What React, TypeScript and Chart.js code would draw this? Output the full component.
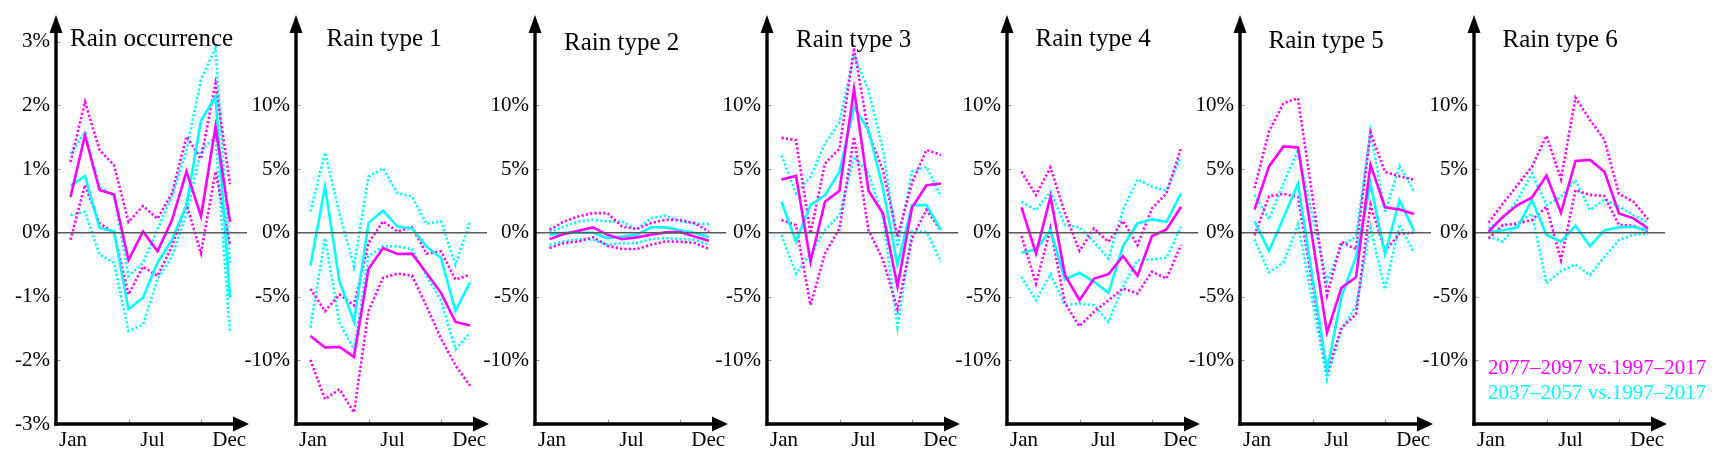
import React, { useEffect, useRef } from 'react';
import { Chart, registerables } from 'chart.js';

Chart.register(...registerables);

// ---------- data ----------
const MONTH_NUM = [1, 2, 3, 4, 5, 6, 7, 8, 9, 10, 11, 12];
const X_LABELS = ['Jan', 'Jul', 'Dec'];
const X_LABEL_POS = [1.17, 6.66, 11.95];
const X_MINOR_TICKS = [5, 10];
const TITLES = ['Rain occurrence', 'Rain type 1', 'Rain type 2', 'Rain type 3', 'Rain type 4', 'Rain type 5', 'Rain type 6'];
const SERIES_NAMES = ['2077\u20132097 vs.1997\u20132017', '2037\u20132057 vs.1997\u20132017'];
const OCC_TICKS = [-3, -2, -1, 0, 1, 2, 3];
const TYPE_TICKS = [-10, -5, 0, 5, 10];
const OCC_RANGE = [-3, 3];
const TYPE_RANGE = [-15, 15];

// Rain occurrence
const occFar = [0.56, 1.53, 0.67, 0.6, -0.43, 0.02, -0.29, 0.2, 0.96, 0.26, 1.66, 0.17];
const occFarHi = [1.11, 2.05, 1.3, 1.06, 0.17, 0.42, 0.22, 0.62, 1.51, 1.16, 2.34, 0.76];
const occFarLo = [-0.11, 0.75, 0.15, 0.0, -0.97, -0.53, -0.68, -0.21, 0.45, -0.32, 0.96, -0.18];
const occNear = [0.74, 0.89, 0.08, 0.02, -1.2, -1.02, -0.47, -0.11, 0.43, 1.76, 2.13, -1.02];
const occNearHi = [1.24, 1.58, 0.72, 0.58, -0.68, -0.47, 0.05, 0.57, 1.3, 2.4, 2.9, -0.47];
const occNearLo = [0.28, 0.33, -0.34, -0.47, -1.54, -1.44, -0.73, -0.37, 0.3, 1.3, 1.5, -1.57];

// Rain type 1
const t1Far = [-8.1, -9.0, -8.96, -9.74, -2.84, -1.2, -1.67, -1.64, -3.15, -4.71, -7.0, -7.27];
const t1FarHi = [-4.4, -6.15, -4.84, -5.7, -0.8, 0.89, 0.1, 0.44, -1.64, -1.46, -3.67, -3.28];
const t1FarLo = [-9.97, -13.05, -12.27, -14.1, -6.15, -3.54, -3.2, -3.36, -5.76, -8.3, -10.4, -12.0];
const t1Near = [-2.58, 3.62, -3.8, -7.0, 0.76, 1.74, 0.49, 0.36, -1.07, -1.98, -6.15, -3.88];
const t1NearHi = [1.67, 6.28, 1.5, -2.63, 4.4, 5.05, 3.1, 2.84, 0.7, 0.89, -2.5, 0.89];
const t1NearLo = [-7.45, -0.42, -7.06, -9.14, -1.85, -1.07, -1.07, -1.28, -3.4, -5.3, -9.14, -7.84];

// Rain type 2
const t2Far = [-0.5, -0.1, 0.16, 0.42, -0.16, -0.5, -0.36, -0.16, 0.03, 0.05, -0.29, -0.63];
const t2FarHi = [0.23, 0.89, 1.28, 1.54, 1.54, 0.49, 0.29, 0.76, 1.02, 1.0, 0.76, 0.1];
const t2FarLo = [-1.2, -0.8, -0.68, -0.34, -1.02, -1.28, -1.28, -0.94, -0.68, -0.7, -0.8, -1.28];
const t2Near = [-0.16, 0, 0, 0, -0.42, -0.29, -0.16, 0.42, 0.42, 0.2, 0, -0.33];
const t2NearHi = [0.03, 0.49, 0.89, 1.02, 0.89, 0.89, 0.23, 1.15, 1.33, 0.9, 0.7, 0.7];
const t2NearLo = [-0.94, -0.68, -0.5, -0.55, -0.94, -0.81, -0.81, -0.5, -0.42, -0.5, -0.55, -0.94];

// Rain type 3
const t3Far = [4.18, 4.46, -2.27, 2.43, 3.29, 11.3, 3.29, 1.51, -4.23, 1.98, 3.73, 3.86];
const t3FarHi = [7.44, 7.26, -0.05, 5.43, 6.6, 14.5, 7.8, 4.9, -0.3, 3.9, 6.5, 6.1];
const t3FarLo = [0.99, 0.6, -5.67, -1.62, 0.34, 7.52, 0.21, -2.14, -6.0, -0.44, 1.8, 0.16];
const t3Near = [2.43, -0.7, 2.17, 2.95, 4.78, 9.87, 8.04, 3.47, -2.53, 2.17, 2.17, 0.21];
const t3NearHi = [6.08, 3.08, 4.39, 7.0, 8.69, 13.9, 11.2, 6.5, -1.1, 4.8, 5.17, 2.82];
const t3NearLo = [-0.18, -3.19, -1.62, 0.21, 1.38, 5.95, 4.65, 1.25, -7.4, 0.1, 0.08, -2.3];

// Rain type 4
const t4Far = [1.99, -1.62, 2.83, -3.32, -5.29, -3.59, -3.25, -1.83, -3.38, -0.26, 0.26, 2.04];
const t4FarHi = [4.79, 2.96, 5.13, 1.52, -1.41, 0.34, -0.71, 0.94, -0.97, 1.91, 3.09, 6.62];
const t4FarLo = [-0.26, -3.98, 0.34, -5.55, -7.33, -6.2, -5.29, -4.37, -4.76, -3.06, -3.59, -0.97];
const t4Near = [-1.57, -1.31, 0.21, -3.66, -3.14, -3.85, -4.71, -1.05, 0.73, 1.05, 0.86, 3.09];
const t4NearHi = [2.43, 1.78, 3.22, 0.6, 0.42, -0.71, -2.02, 1.78, 4.19, 3.61, 3.3, 5.97];
const t4NearLo = [-3.46, -5.29, -3.25, -5.68, -5.55, -5.68, -6.99, -4.24, -2.15, -2.09, -1.96, 0.47];

// Rain type 5
const t5Far = [1.82, 5.2, 6.77, 6.69, -0.5, -7.84, -4.3, -3.5, 5.34, 2.0, 1.82, 1.48];
const t5FarHi = [3.5, 7.94, 10.16, 10.55, 2.8, -4.9, -0.7, -1.3, 7.86, 4.77, 4.43, 4.17];
const t5FarLo = [-0.2, 2.86, 3.05, 2.81, -4.1, -11.0, -7.45, -6.4, 2.2, -1.43, -0.08, 0.0];
const t5Near = [0.91, -1.43, 1.17, 3.85, -3.5, -10.8, -5.0, -1.9, 3.85, -1.7, 2.55, 0.13];
const t5NearHi = [3.0, 1.04, 3.9, 6.5, 1.3, -3.8, -1.0, -0.3, 7.94, 1.56, 5.26, 3.26];
const t5NearLo = [-0.52, -3.1, -2.34, 0.65, -5.4, -11.5, -7.58, -5.76, 0.39, -4.43, 0.65, -1.56];

// Rain type 6
const t6Far = [0.08, 1.26, 2.17, 2.77, 4.48, 1.57, 5.63, 5.71, 4.79, 1.52, 1.13, 0.34];
const t6FarHi = [0.79, 2.3, 3.74, 5.18, 7.6, 4.2, 10.6, 8.85, 7.28, 3.04, 2.43, 1.05];
const t6FarLo = [-0.45, 0.6, 0.73, 1.0, 2.04, -2.15, 3.35, 2.96, 2.88, 0.6, 0.55, 0.08];
const t6Near = [0.08, 0.2, 0.42, 2.57, -0.18, -0.7, 0.55, -1.05, 0.2, 0.42, 0.47, 0.2];
const t6NearHi = [0.34, 1.13, 2.57, 4.66, 2.17, 2.83, 4.14, 1.78, 2.62, 2.04, 1.39, 0.79];
const t6NearLo = [-0.31, -0.7, 0.73, 1.5, -3.98, -3.0, -2.49, -3.32, -1.88, -0.58, -0.15, -0.1];

// ---------- layout / style ----------
const FAR_COLOR = '#ff00ff';
const NEAR_COLOR = '#00ffff';
const SERIF = '"Liberation Serif", "Times New Roman", serif';
const AXIS_X = [56, 296, 535, 767, 1007, 1240, 1474];
const TITLE_DX = [14, 30.5, 29, 29, 28.5, 28.5, 28.5];
const TITLE_BASE = [45.5, 45.5, 50, 46.5, 46, 48, 46.5];
const LEFT = 56;
const AXIS_LEN = 191;
const PX_PER_MONTH = 14.5;
const PLOT_TOP = 41.5;
const PLOT_BOTTOM = 424;
const CANVAS_H = 462;
const ARROW_TOP = 15;

type PanelDef = {
  title: string;
  ticks: number[];
  range: number[];
  series: number[][]; // far, near, farHi, farLo, nearHi, nearLo
};

const PANELS: PanelDef[] = [
  { title: TITLES[0], ticks: OCC_TICKS, range: OCC_RANGE, series: [occFar, occNear, occFarHi, occFarLo, occNearHi, occNearLo] },
  { title: TITLES[1], ticks: TYPE_TICKS, range: TYPE_RANGE, series: [t1Far, t1Near, t1FarHi, t1FarLo, t1NearHi, t1NearLo] },
  { title: TITLES[2], ticks: TYPE_TICKS, range: TYPE_RANGE, series: [t2Far, t2Near, t2FarHi, t2FarLo, t2NearHi, t2NearLo] },
  { title: TITLES[3], ticks: TYPE_TICKS, range: TYPE_RANGE, series: [t3Far, t3Near, t3FarHi, t3FarLo, t3NearHi, t3NearLo] },
  { title: TITLES[4], ticks: TYPE_TICKS, range: TYPE_RANGE, series: [t4Far, t4Near, t4FarHi, t4FarLo, t4NearHi, t4NearLo] },
  { title: TITLES[5], ticks: TYPE_TICKS, range: TYPE_RANGE, series: [t5Far, t5Near, t5FarHi, t5FarLo, t5NearHi, t5NearLo] },
  { title: TITLES[6], ticks: TYPE_TICKS, range: TYPE_RANGE, series: [t6Far, t6Near, t6FarHi, t6FarLo, t6NearHi, t6NearLo] },
];

const SERIES_STYLE = [
  { color: FAR_COLOR, dotted: false },
  { color: NEAR_COLOR, dotted: false },
  { color: FAR_COLOR, dotted: true },
  { color: FAR_COLOR, dotted: true },
  { color: NEAR_COLOR, dotted: true },
  { color: NEAR_COLOR, dotted: true },
];

function makeDecor(index: number, withLegend: boolean) {
  return {
    id: 'decor' + index,
    afterDatasetsDraw(chart: any) {
      const { ctx, chartArea, scales } = chart;
      const { left, right, bottom } = chartArea;
      const y = scales.y;
      const x = scales.x;
      ctx.save();
      // zero line
      const y0 = y.getPixelForValue(0);
      ctx.strokeStyle = '#5a5a5a';
      ctx.lineWidth = 1.6;
      ctx.beginPath();
      ctx.moveTo(left, y0);
      ctx.lineTo(right, y0);
      ctx.stroke();
      // minor ticks
      ctx.strokeStyle = '#9a9a9a';
      ctx.lineWidth = 1;
      X_MINOR_TICKS.forEach((m) => {
        const px = Math.round(x.getPixelForValue(m)) + 0.5;
        ctx.beginPath();
        ctx.moveTo(px, bottom - 1.5);
        ctx.lineTo(px, bottom - 4.5);
        ctx.stroke();
      });
      PANELS[index].ticks.forEach((t) => {
        if (t === 0) return;
        const py = Math.round(y.getPixelForValue(t)) + 0.5;
        ctx.beginPath();
        ctx.moveTo(left + 1.5, py);
        ctx.lineTo(left + 4.5, py);
        ctx.stroke();
      });
      // axes
      ctx.strokeStyle = '#000';
      ctx.fillStyle = '#000';
      ctx.lineWidth = 3.4;
      ctx.beginPath();
      ctx.moveTo(left, bottom + 1.7);
      ctx.lineTo(left, ARROW_TOP + 14);
      ctx.stroke();
      ctx.beginPath();
      ctx.moveTo(left - 1.7, bottom);
      ctx.lineTo(right - 10, bottom);
      ctx.stroke();
      // arrow heads
      ctx.beginPath();
      ctx.moveTo(left, ARROW_TOP);
      ctx.lineTo(left - 6.5, ARROW_TOP + 18);
      ctx.lineTo(left + 6.5, ARROW_TOP + 18);
      ctx.closePath();
      ctx.fill();
      const tip = right + 2;
      ctx.beginPath();
      ctx.moveTo(tip, bottom);
      ctx.lineTo(tip - 16, bottom - 7.5);
      ctx.lineTo(tip - 16, bottom + 7.5);
      ctx.closePath();
      ctx.fill();
      // title
      ctx.font = '25px ' + SERIF;
      ctx.textAlign = 'left';
      ctx.textBaseline = 'alphabetic';
      ctx.fillText(PANELS[index].title, left + TITLE_DX[index], TITLE_BASE[index]);
      // legend
      if (withLegend) {
        ctx.font = '21px ' + SERIF;
        ctx.fillStyle = FAR_COLOR;
        ctx.fillText(SERIES_NAMES[0], left + 14, 374);
        ctx.fillStyle = NEAR_COLOR;
        ctx.fillText(SERIES_NAMES[1], left + 14, 398.5);
      }
      ctx.restore();
    },
  };
}

function Panel({ index }: { index: number }) {
  const ref = useRef<HTMLCanvasElement | null>(null);
  const last = index === PANELS.length - 1;
  const width = last ? 1723 - (AXIS_X[index] - LEFT) : 256;
  useEffect(() => {
    const canvas = ref.current;
    if (!canvas) return;
    const p = PANELS[index];
    const datasets = p.series.map((vals, si) => ({
      data: vals.map((v, i) => ({ x: MONTH_NUM[i], y: v })),
      borderColor: SERIES_STYLE[si].color,
      backgroundColor: SERIES_STYLE[si].color,
      borderWidth: 2.6,
      borderDash: SERIES_STYLE[si].dotted ? [2.2, 2.2] : [],
      borderCapStyle: 'butt',
      borderJoinStyle: 'miter',
      pointRadius: 0,
      tension: 0,
      fill: false,
      clip: false,
    }));
    const chart = new Chart(canvas, {
      type: 'line',
      data: { datasets } as any,
      options: {
        animation: false,
        responsive: false,
        maintainAspectRatio: false,
        events: [],
        layout: { padding: { top: PLOT_TOP, right: width - LEFT - AXIS_LEN, left: 0, bottom: 0 } },
        plugins: { legend: { display: false }, title: { display: false }, tooltip: { enabled: false } },
        scales: {
          x: {
            type: 'linear',
            min: 0,
            max: AXIS_LEN / PX_PER_MONTH,
            grid: { display: false, drawTicks: false },
            border: { display: false },
            afterBuildTicks: (s: any) => {
              s.ticks = X_LABEL_POS.map((v) => ({ value: v }));
            },
            afterFit: (s: any) => {
              s.height = CANVAS_H - PLOT_BOTTOM;
            },
            ticks: {
              autoSkip: false,
              maxRotation: 0,
              padding: 4,
              color: '#000',
              font: { family: SERIF, size: 21 },
              callback: (_v: any, i: number) => X_LABELS[i],
            },
          },
          y: {
            type: 'linear',
            min: p.range[0],
            max: p.range[1],
            grid: { display: false, drawTicks: false },
            border: { display: false },
            afterBuildTicks: (s: any) => {
              s.ticks = p.ticks.map((v) => ({ value: v }));
            },
            afterFit: (s: any) => {
              s.width = LEFT;
            },
            ticks: {
              padding: 6,
              color: '#000',
              font: { family: SERIF, size: 21 },
              callback: (v: any) => v + '%',
            },
          },
        },
      } as any,
      plugins: [makeDecor(index, last)],
    });
    return () => chart.destroy();
  }, [index, width]);
  return (
    <canvas
      ref={ref}
      width={width}
      height={CANVAS_H}
      style={{ position: 'absolute', left: AXIS_X[index] - LEFT, top: 0, width, height: CANVAS_H }}
    />
  );
}

export default function App() {
  return (
    <div style={{ position: 'absolute', left: 0, top: 0, width: 1723, height: 462, background: '#fff', overflow: 'hidden' }}>
      {PANELS.map((_, i) => (
        <Panel key={i} index={i} />
      ))}
    </div>
  );
}
